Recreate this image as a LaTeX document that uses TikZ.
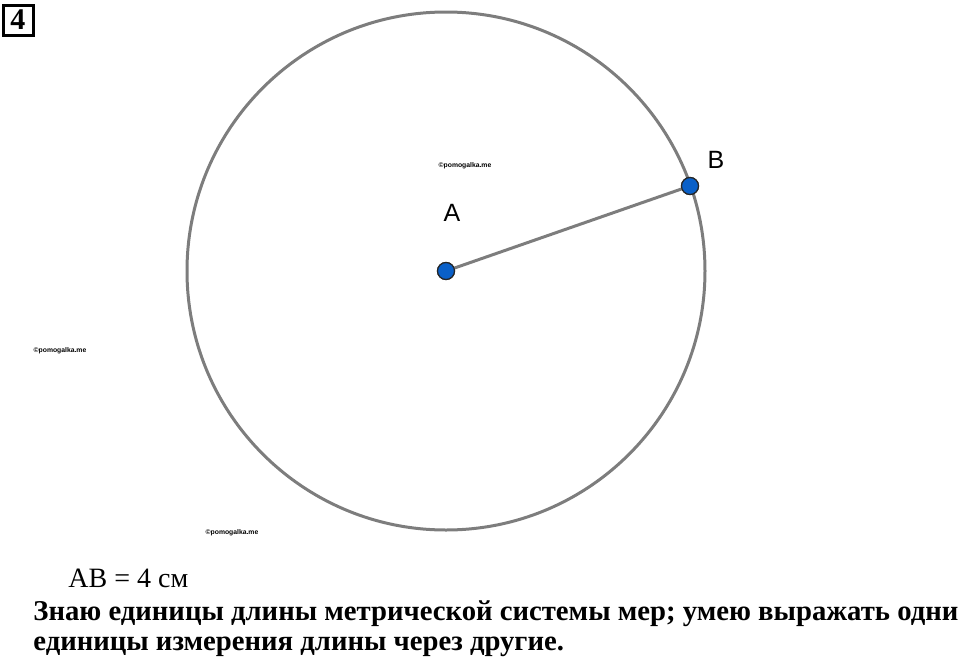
\documentclass[tikz,border=0pt]{standalone}
\usepackage{fontspec}
\setmainfont{Liberation Serif}
\setsansfont{Liberation Sans}
\usetikzlibrary{positioning}
\definecolor{seryj}{RGB}{125,125,125}
\definecolor{sinij}{RGB}{10,96,200}
\tikzset{
  tochka/.style={circle,draw=black!85,fill=sinij,line width=0.6pt,inner sep=0pt,minimum size=8.5pt},
  metka/.style={font=\sffamily\fontsize{12.5}{14}\selectfont},
  znak/.style={font=\sffamily\bfseries\fontsize{3.4}{4}\selectfont},
  tekst/.style={anchor=base west,inner sep=0pt,font=\fontsize{14}{15}\selectfont},
  zhirnyj/.style={tekst,font=\bfseries\fontsize{14.35}{15}\selectfont},
}
\begin{document}
\begin{tikzpicture}[x=0.5pt,y=-0.5pt]
  \useasboundingbox(0,0)rectangle(960,659);
  \node[draw,line width=1.5pt,inner sep=0pt,minimum size=15pt,font=\bfseries\fontsize{15}{15}\selectfont](nomer)at(18,20){4};%номер задачи
  \draw[seryj,line width=1.5pt](446,271)circle(259);%окружность
  \node[tochka](A)at(446,271){};%центр
  \node[tochka](B)at(690,186){};%точка на окружности
  \draw[seryj,line width=1.5pt](A)--(B);%радиус
  \node[tochka]at(A){};\node[tochka]at(B){};
  \node[metka](a)at(452,213){A};
  \node[metka](b)at(716,160){B};
  \node[znak](znak1)at(465,166){©pomogalka.me};
  \node[znak](znak2)at(60,351){©pomogalka.me};
  \node[znak](znak3)at(232,533){©pomogalka.me};
  \node[tekst](dlina)at(68,587){AB = 4 см};
  \node[zhirnyj](stroka1)at(33,620){Знаю единицы длины метрической системы мер; умею выражать одни};
  \node[zhirnyj](stroka2)at(33,650){единицы измерения длины через другие.};
\end{tikzpicture}
\end{document}
